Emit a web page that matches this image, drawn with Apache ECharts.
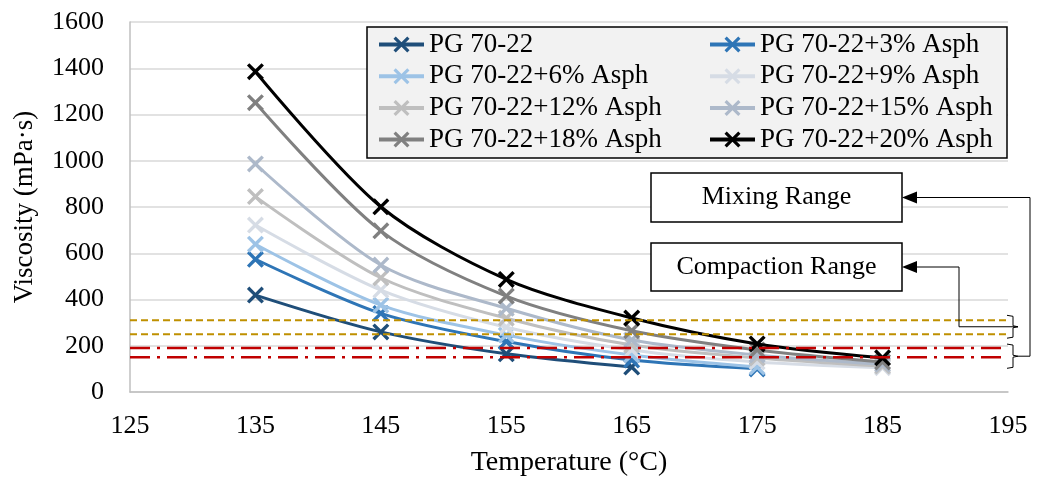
<!DOCTYPE html>
<html>
<head>
<meta charset="utf-8">
<script src="https://cdn.jsdelivr.net/npm/echarts@6/dist/echarts.min.js"></script>
<style>
  html, body { margin: 0; padding: 0; background: #fff; }
  #chart { width: 1039px; height: 479px; }
</style>
</head>
<body>
<div id="chart"></div>
<script>
// Test temperatures (°C)
const temperatures = [135, 145, 155, 165, 175, 185];

// Rotational viscosity (mPa·s) at each temperature
const pg7022      = [419, 260, 165, 108];
const asph3       = [574, 340, 218, 138, 100];
const asph6       = [639, 376, 246, 160, 108];
const asph9       = [722, 441, 280, 182, 130, 105];
const asph12      = [845, 494, 319, 203, 147, 112];
const asph15      = [986, 549, 362, 225, 160, 120];
const asph18      = [1251, 697, 415, 265, 182, 130];
const asph20      = [1385, 801, 487, 320, 208, 148];

const seriesNames = [
  'PG 70-22', 'PG 70-22+3% Asph', 'PG 70-22+6% Asph', 'PG 70-22+9% Asph',
  'PG 70-22+12% Asph', 'PG 70-22+15% Asph', 'PG 70-22+18% Asph', 'PG 70-22+20% Asph'
];
const seriesValues = [pg7022, asph3, asph6, asph9, asph12, asph15, asph18, asph20];
const seriesColors = ['#1f4e79', '#2e75b6', '#9dc3e6', '#d6dce5', '#bfbfbf', '#adb9ca', '#808080', '#000000'];

// Viscosity ranges (mPa·s)
const compactionRange = [250, 310];
const mixingRange = [150, 190];

// Axis ticks
const xTicks = { min: 125, max: 195, step: 10 };
const yTicks = { min: 0, max: 1600, step: 200 };

const FONT = 'Liberation Serif';
const CROSS = 'path://M0,1.4L1.4,0L5,3.6L8.6,0L10,1.4L6.4,5L10,8.6L8.6,10L5,6.4L1.4,10L0,8.6L3.6,5Z';

const chart = echarts.init(document.getElementById('chart'), null, { renderer: 'canvas' });

const curveSeries = seriesNames.map((name, i) => ({
  name: name,
  type: 'line',
  data: seriesValues[i].map((v, k) => [temperatures[k], v]),
  smooth: 0.3,
  symbol: CROSS,
  symbolSize: 17,
  showSymbol: true,
  lineStyle: { color: seriesColors[i], width: 3 },
  itemStyle: { color: seriesColors[i] },
  z: 2 + i * 0.01,
  emphasis: { disabled: true },
  animation: false
}));

function rangeLine(value, color, dash, width) {
  return {
    type: 'line',
    data: [[xTicks.min, value], [xTicks.max, value]],
    symbol: 'none',
    lineStyle: { color: color, width: width, type: dash },
    z: 4,
    silent: true,
    animation: false
  };
}

const rangeSeries = [
  rangeLine(compactionRange[1], '#bf9000', [7, 4], 2),
  rangeLine(compactionRange[0], '#bf9000', [7, 4], 2),
  rangeLine(mixingRange[1], '#c00000', [20, 7, 3, 7], 2.5),
  rangeLine(mixingRange[0], '#c00000', [20, 7, 3, 7], 2.5)
];

const legendBase = {
  orient: 'vertical',
  top: 31,
  padding: 0,
  itemWidth: 45,
  itemHeight: 20,
  itemGap: 4.7,
  lineStyle: { width: 4 },
  textStyle: { fontFamily: FONT, fontSize: 27, color: '#000', lineHeight: 27 },
  selectedMode: false
};

chart.setOption({
  animation: false,
  grid: { left: 130, right: 31, top: 22, bottom: 87, containLabel: false, outerBoundsMode: 'none' },
  xAxis: {
    type: 'value',
    min: xTicks.min, max: xTicks.max, interval: xTicks.step,
    name: 'Temperature (°C)',
    nameLocation: 'middle',
    nameGap: 57,
    nameTextStyle: { fontFamily: FONT, fontSize: 28, color: '#000' },
    axisLine: { show: true, lineStyle: { color: '#bfbfbf', width: 1.5 } },
    axisTick: { show: false },
    axisLabel: { fontFamily: FONT, fontSize: 26, color: '#000', margin: 21 },
    splitLine: { show: false }
  },
  yAxis: {
    type: 'value',
    min: yTicks.min, max: yTicks.max, interval: yTicks.step,
    name: 'Viscosity (mPa·s)',
    nameLocation: 'middle',
    nameGap: 92,
    nameTextStyle: { fontFamily: FONT, fontSize: 27, color: '#000' },
    axisLine: { show: true, lineStyle: { color: '#bfbfbf', width: 1.5 } },
    axisTick: { show: false },
    axisLabel: { fontFamily: FONT, fontSize: 26, color: '#000', margin: 26, formatter: v => String(v) },
    splitLine: { show: true, lineStyle: { color: '#d9d9d9', width: 1.5 } }
  },
  legend: [
    Object.assign({}, legendBase, { left: 377, data: [seriesNames[0], seriesNames[2], seriesNames[4], seriesNames[6]] }),
    Object.assign({}, legendBase, { left: 708, data: [seriesNames[1], seriesNames[3], seriesNames[5], seriesNames[7]] })
  ],
  series: curveSeries.concat(rangeSeries)
});

// Annotation boxes, range braces and leader arrows
function yPix(v) { return chart.convertToPixel({ gridIndex: 0 }, [xTicks.min, v])[1]; }
function xPix(v) { return chart.convertToPixel({ gridIndex: 0 }, [v, 0])[0]; }

const xr = xPix(xTicks.max);

function brace(top, bottom) {
  const mid = (top + bottom) / 2;
  return {
    type: 'polyline',
    shape: { points: [[xr - 1, top], [xr + 5, top + 1], [xr + 5, mid - 1], [xr + 10, mid], [xr + 5, mid + 1], [xr + 5, bottom - 1], [xr - 1, bottom]] },
    style: { stroke: '#000', lineWidth: 1, fill: null },
    z: 10
  };
}

function arrowHead(x, y) {
  return {
    type: 'polygon',
    shape: { points: [[x, y], [x + 15, y - 6], [x + 15, y + 6]] },
    style: { fill: '#000' },
    z: 10
  };
}

function labelBox(x, y, w, h, text) {
  return [
    { type: 'rect', shape: { x: x, y: y, width: w, height: h }, style: { fill: '#fff', stroke: '#000', lineWidth: 1.5 }, z: 8 },
    { type: 'text', x: x + w / 2, y: y + h / 2, style: { text: text, font: '26px "' + FONT + '"', fill: '#000', align: 'center', verticalAlign: 'middle' }, z: 9 }
  ];
}

const cTop = yPix(compactionRange[1]) - 5, cBot = yPix(compactionRange[0]) + 4;
const mTop = yPix(mixingRange[1]) - 4, mBot = yPix(mixingRange[0]) + 11;
const cMid = (cTop + cBot) / 2, mMid = (mTop + mBot) / 2;

const boxX = 651, boxW = 251;
const mixBox = { y: 173, h: 49 };
const compBox = { y: 243, h: 48 };
const mixArrowY = mixBox.y + mixBox.h / 2;
const compArrowY = compBox.y + compBox.h / 2;

const graphics = [
  { type: 'rect', shape: { x: 367, y: 27, width: 640, height: 131 }, style: { fill: '#f2f2f2', stroke: '#000', lineWidth: 1.5 }, z: 3 }
]
  .concat(labelBox(boxX, mixBox.y, boxW, mixBox.h, 'Mixing Range'))
  .concat(labelBox(boxX, compBox.y, boxW, compBox.h, 'Compaction Range'))
  .concat([
    brace(cTop, cBot),
    brace(mTop, mBot),
    {
      type: 'polyline',
      shape: { points: [[xr + 10, cMid], [959, cMid], [959, compArrowY], [boxX + boxW + 14, compArrowY]] },
      style: { stroke: '#000', lineWidth: 1, fill: null }, z: 10
    },
    arrowHead(boxX + boxW, compArrowY),
    {
      type: 'polyline',
      shape: { points: [[xr + 10, mMid], [1030, mMid], [1030, mixArrowY], [boxX + boxW + 14, mixArrowY]] },
      style: { stroke: '#000', lineWidth: 1, fill: null }, z: 10
    },
    arrowHead(boxX + boxW, mixArrowY)
  ]);

chart.setOption({ graphic: { elements: graphics } });
</script>
</body>
</html>
